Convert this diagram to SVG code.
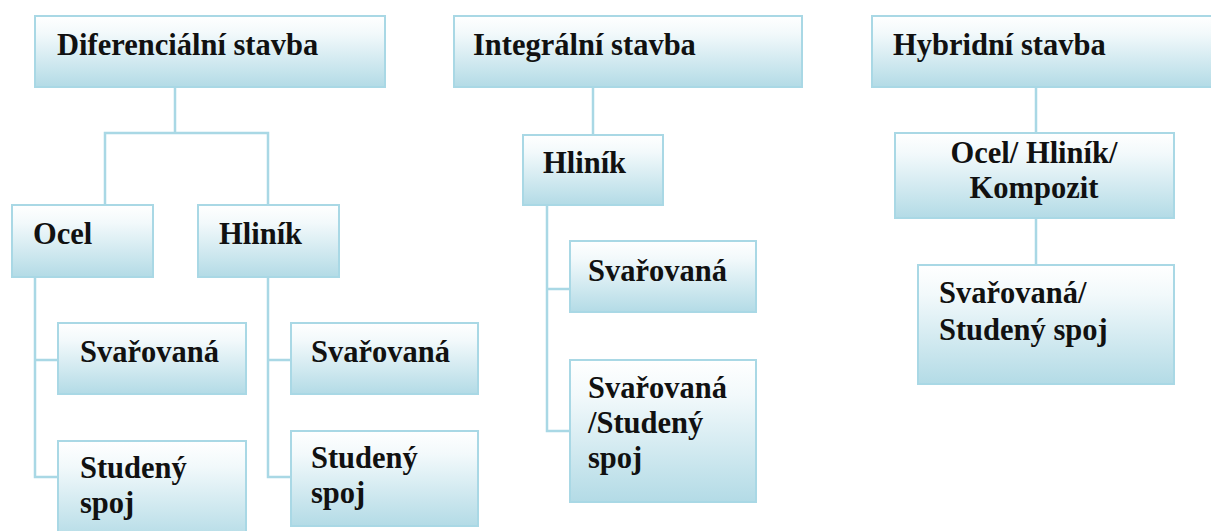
<svg xmlns="http://www.w3.org/2000/svg" width="1211" height="531" viewBox="0 0 1211 531">
<defs>
<linearGradient id="g" x1="0" y1="0" x2="0" y2="1">
<stop offset="0" stop-color="#ffffff"/>
<stop offset="0.25" stop-color="#f2f9fb"/>
<stop offset="1" stop-color="#b3dbe6"/>
</linearGradient>
</defs>
<style>
.box{fill:url(#g);stroke:#a9d8e5;stroke-width:2}
.t{font-family:"Liberation Serif","Times New Roman",serif;font-weight:bold;font-size:30.5px;fill:#111}
.c{fill:none;stroke:#a9d8e5;stroke-width:2.5}
</style>
<g id="connectors">
<path class="c" d="M175 87V133M105 205V133H268V205"/>
<path class="c" d="M35 277V477H58M35 360H58"/>
<path class="c" d="M268 277V477H291M268 360H291"/>
<path class="c" d="M593 87V135"/>
<path class="c" d="M547 205V431H570M547 289H570"/>
<path class="c" d="M1036 87V133M1036 218V265"/>
</g>
<g id="n-dif"><rect class="box" x="35" y="16" width="350" height="71"/><text class="t" x="57" y="55">Diferenciální stavba</text></g>
<g id="n-int"><rect class="box" x="454" y="16" width="348" height="71"/><text class="t" x="473" y="55">Integrální stavba</text></g>
<g id="n-hyb"><rect class="box" x="872" y="16" width="350" height="71"/><text class="t" x="893" y="55">Hybridní stavba</text></g>
<g id="n-ocel"><rect class="box" x="12" y="205" width="141" height="72"/><text class="t" x="33" y="244">Ocel</text></g>
<g id="n-hlinik1"><rect class="box" x="198" y="205" width="141" height="72"/><text class="t" x="219" y="244">Hliník</text></g>
<g id="n-ocel-svar"><rect class="box" x="58" y="323" width="188" height="71"/><text class="t" x="80" y="362">Svařovaná</text></g>
<g id="n-ocel-stud"><rect class="box" x="58" y="441" width="188" height="100"/><text class="t" x="80" y="478">Studený</text><text class="t" x="80" y="513">spoj</text></g>
<g id="n-hl1-svar"><rect class="box" x="291" y="323" width="187" height="71"/><text class="t" x="311" y="362">Svařovaná</text></g>
<g id="n-hl1-stud"><rect class="box" x="291" y="431" width="187" height="95"/><text class="t" x="311" y="468">Studený</text><text class="t" x="311" y="503">spoj</text></g>
<g id="n-hlinik2"><rect class="box" x="523" y="135" width="140" height="70"/><text class="t" x="543" y="173">Hliník</text></g>
<g id="n-hl2-svar"><rect class="box" x="570" y="241" width="186" height="71"/><text class="t" x="588" y="281">Svařovaná</text></g>
<g id="n-hl2-svst"><rect class="box" x="570" y="360" width="186" height="142"/><text class="t" x="588" y="398">Svařovaná</text><text class="t" x="588" y="433">/Studený</text><text class="t" x="588" y="468">spoj</text></g>
<g id="n-mat"><rect class="box" x="895" y="133" width="279" height="85"/><text class="t" x="1034" y="163" text-anchor="middle">Ocel/ Hliník/</text><text class="t" x="1034" y="198" text-anchor="middle">Kompozit</text></g>
<g id="n-spoj"><rect class="box" x="918" y="265" width="256" height="119"/><text class="t" x="939" y="303">Svařovaná/</text><text class="t" x="939" y="340">Studený spoj</text></g>
</svg>
